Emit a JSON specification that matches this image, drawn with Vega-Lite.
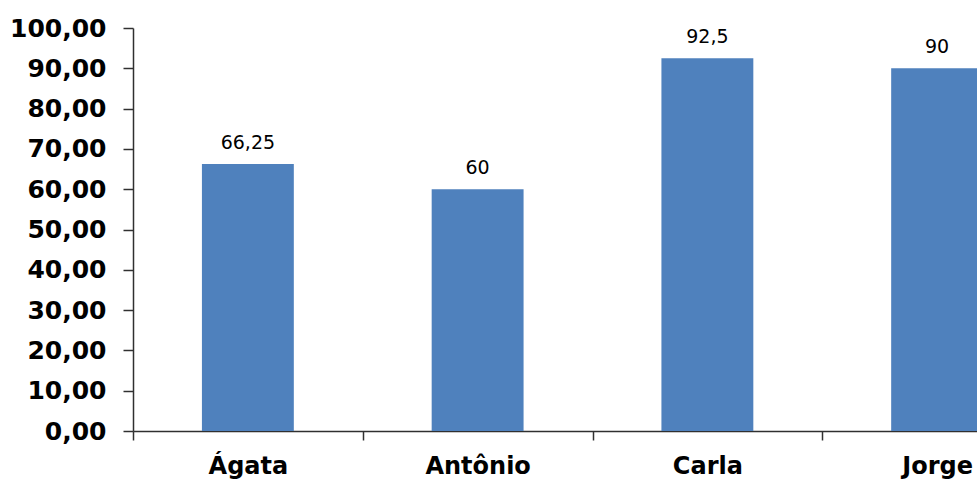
{
  "$schema": "https://vega.github.io/schema/vega-lite/v6.json",
  "autosize": {"type": "none"},
  "padding": {"left": 133, "top": 28, "right": 0, "bottom": 51},
  "width": 844,
  "height": 403,
  "background": "white",
  "config": {
    "view": {"stroke": null},
    "locale": {
      "number": {"decimal": ",", "thousands": ".", "grouping": [3], "currency": ["R$ ", ""]}
    }
  },
  "data": {
    "values": [
      {"aluno": "Ágata", "media": 66.25},
      {"aluno": "Antônio", "media": 60},
      {"aluno": "Carla", "media": 92.5},
      {"aluno": "Jorge", "media": 90}
    ]
  },
  "encoding": {
    "x": {
      "field": "aluno",
      "type": "nominal",
      "sort": null,
      "scale": {"range": [0, 919], "paddingInner": 0, "paddingOuter": 0},
      "axis": {
        "title": null,
        "labelAngle": 0,
        "tickBand": "extent",
        "domainColor": "#303030",
        "domainWidth": 1.5,
        "tickColor": "#303030",
        "tickWidth": 1.5,
        "tickSize": 9,
        "labelFont": "DejaVu Sans",
        "labelFontWeight": "bold",
        "labelFontSize": 24,
        "labelColor": "black",
        "labelPadding": 14
      }
    },
    "y": {
      "field": "media",
      "type": "quantitative",
      "scale": {"domain": [0, 100], "nice": false},
      "axis": {
        "title": null,
        "values": [0, 10, 20, 30, 40, 50, 60, 70, 80, 90, 100],
        "format": ".2f",
        "grid": false,
        "domainColor": "#303030",
        "domainWidth": 1.5,
        "tickColor": "#303030",
        "tickWidth": 1.5,
        "tickSize": 10,
        "labelFont": "DejaVu Sans",
        "labelFontWeight": "bold",
        "labelFontSize": 25,
        "labelColor": "black",
        "labelPadding": 17
      }
    }
  },
  "layer": [
    {
      "mark": {"type": "bar", "color": "#4F81BD", "width": {"band": 0.4}}
    },
    {
      "mark": {
        "type": "text",
        "baseline": "alphabetic",
        "dy": -15,
        "font": "DejaVu Sans",
        "fontSize": 19,
        "color": "black"
      },
      "encoding": {
        "text": {"field": "media", "type": "quantitative", "format": "~g"}
      }
    }
  ]
}
